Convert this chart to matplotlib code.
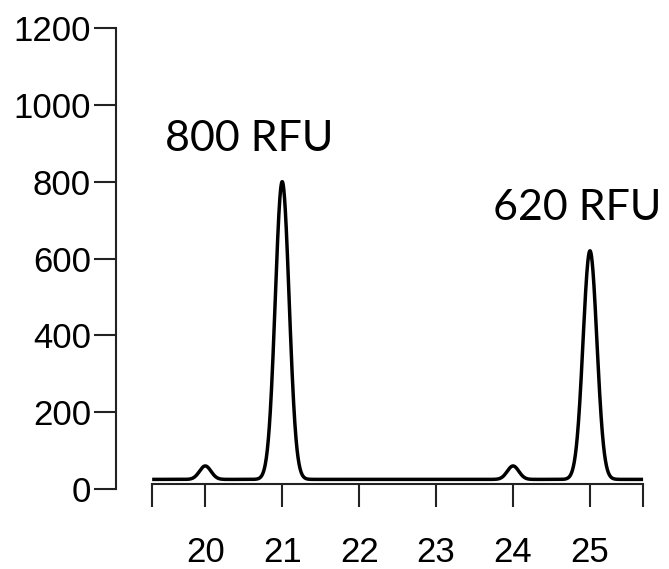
import numpy as np
import matplotlib.pyplot as plt

# peak table: size (bp), top of peak (RFU), width
peak_pos = [20, 21, 24, 25]
peak_top = [60, 800, 60, 620]
peak_sigma = [0.075, 0.09, 0.075, 0.09]
baseline = 25

x_ticks = [20, 21, 22, 23, 24, 25]
y_ticks = [0, 200, 400, 600, 800, 1000, 1200]
x_start, x_end = 19.31, 25.69

# build the trace from the peak table
x = np.linspace(x_start, x_end, 2000)
y = np.full_like(x, baseline, dtype=float)
for p, h, s in zip(peak_pos, peak_top, peak_sigma):
    y += (h - baseline) * np.exp(-0.5 * ((x - p) / s) ** 2)

fig = plt.figure(figsize=(6.69, 5.69), dpi=100)
ax = fig.add_axes([116 / 669, 1 - 489 / 569, (660 - 116) / 669, (489 - 28) / 569])

ax.plot(x, y, color='black', lw=2.5, solid_capstyle='butt')

ax.set_xlim(18.84, 25.91)
ax.set_ylim(0, 1200)

for side in ['top', 'right']:
    ax.spines[side].set_visible(False)
ax.spines['left'].set_bounds(0, 1200)
ax.spines['bottom'].set_position(('data', 13))
ax.spines['bottom'].set_bounds(x_start, x_end)
for side in ['left', 'bottom']:
    ax.spines[side].set_linewidth(1.5)
    ax.spines[side].set_color('#222222')

ax.set_yticks(y_ticks)
ax.set_xticks([x_start] + x_ticks + [x_end])
ax.set_xticklabels([''] + [str(t) for t in x_ticks] + [''])

ax.tick_params(axis='y', length=16, width=1.5, pad=2, labelsize=25, color='#222222')
ax.tick_params(axis='x', length=16.5, width=1.5, pad=21, labelsize=25, color='#222222')
for lbl in ax.get_xticklabels() + ax.get_yticklabels():
    lbl.set_family('Liberation Sans')

# peak heights
ax.text(21 - 0.43, 910, '800 RFU', fontsize=31, family='Lato', ha='center', va='center')
ax.text(25 - 0.16, 732, '620 RFU', fontsize=31, family='Lato', ha='center', va='center')

fig.savefig('out.png', dpi=100)
